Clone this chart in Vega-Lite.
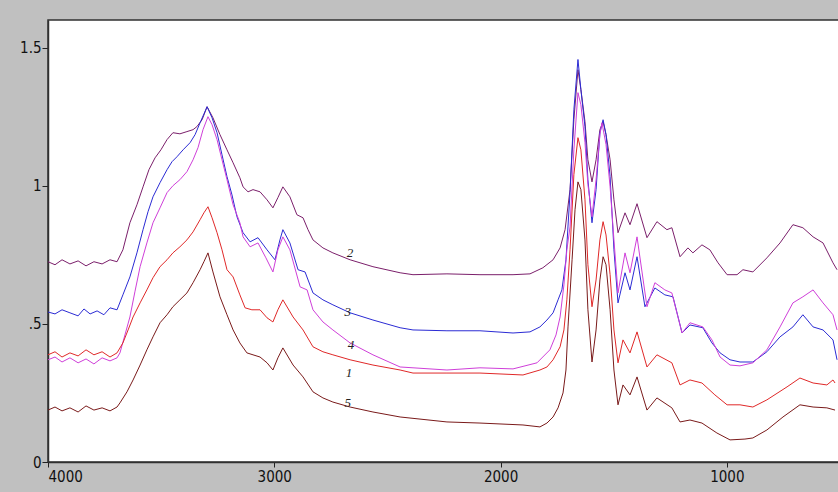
{
"$schema": "https://vega.github.io/schema/vega-lite/v6.json",
"width": 792, "height": 442,
"autosize": {"type": "none"},
"padding": {"left": 48, "top": 20, "right": 0, "bottom": 30},
"background": "#c0c0c0",
"config": {
  "view": {"fill": "white", "stroke": "#303030", "strokeWidth": 1.5},
  "axis": {"labelFont": "'DejaVu Sans Condensed', 'Liberation Sans Narrow', sans-serif", "labelFontSize": 15, "labelColor": "#111111", "tickColor": "#222222", "domainColor": "#303030", "domainWidth": 1.5, "grid": false, "title": null, "tickSize": 6, "labelPadding": 1}
},
"datasets": {
"spec": [
{"s":"2","w":4000,"a":0.725},{"s":"2","w":3969,"a":0.714},{"s":"2","w":3938,"a":0.732},{"s":"2","w":3903,"a":0.717},{"s":"2","w":3867,"a":0.728},{"s":"2","w":3832,"a":0.710},{"s":"2","w":3797,"a":0.725},{"s":"2","w":3761,"a":0.717},{"s":"2","w":3726,"a":0.732},{"s":"2","w":3695,"a":0.725},{"s":"2","w":3669,"a":0.768},{"s":"2","w":3638,"a":0.866},{"s":"2","w":3607,"a":0.931},{"s":"2","w":3580,"a":0.996},{"s":"2","w":3554,"a":1.058},{"s":"2","w":3527,"a":1.101},{"s":"2","w":3501,"a":1.130},{"s":"2","w":3474,"a":1.167},{"s":"2","w":3448,"a":1.192},{"s":"2","w":3417,"a":1.188},{"s":"2","w":3386,"a":1.196},{"s":"2","w":3359,"a":1.203},{"s":"2","w":3342,"a":1.214},{"s":"2","w":3319,"a":1.239},{"s":"2","w":3297,"a":1.286},{"s":"2","w":3271,"a":1.246},{"s":"2","w":3240,"a":1.185},{"s":"2","w":3209,"a":1.130},{"s":"2","w":3182,"a":1.083},{"s":"2","w":3152,"a":1.029},{"s":"2","w":3138,"a":0.996},{"s":"2","w":3116,"a":0.978},{"s":"2","w":3094,"a":0.986},{"s":"2","w":3063,"a":0.978},{"s":"2","w":3032,"a":0.949},{"s":"2","w":3006,"a":0.920},{"s":"2","w":2984,"a":0.957},{"s":"2","w":2962,"a":0.996},{"s":"2","w":2931,"a":0.960},{"s":"2","w":2900,"a":0.895},{"s":"2","w":2873,"a":0.884},{"s":"2","w":2851,"a":0.841},{"s":"2","w":2829,"a":0.804},{"s":"2","w":2785,"a":0.775},{"s":"2","w":2741,"a":0.757},{"s":"2","w":2665,"a":0.732},{"s":"2","w":2564,"a":0.707},{"s":"2","w":2444,"a":0.685},{"s":"2","w":2387,"a":0.678},{"s":"2","w":2237,"a":0.681},{"s":"2","w":2091,"a":0.678},{"s":"2","w":1945,"a":0.678},{"s":"2","w":1870,"a":0.681},{"s":"2","w":1813,"a":0.703},{"s":"2","w":1768,"a":0.732},{"s":"2","w":1737,"a":0.775},{"s":"2","w":1715,"a":0.841},{"s":"2","w":1693,"a":0.986},{"s":"2","w":1676,"a":1.239},{"s":"2","w":1658,"a":1.420},{"s":"2","w":1645,"a":1.348},{"s":"2","w":1627,"a":1.232},{"s":"2","w":1614,"a":1.094},{"s":"2","w":1596,"a":1.014},{"s":"2","w":1578,"a":1.094},{"s":"2","w":1561,"a":1.203},{"s":"2","w":1547,"a":1.232},{"s":"2","w":1534,"a":1.185},{"s":"2","w":1516,"a":1.094},{"s":"2","w":1499,"a":0.949},{"s":"2","w":1481,"a":0.830},{"s":"2","w":1450,"a":0.902},{"s":"2","w":1428,"a":0.859},{"s":"2","w":1397,"a":0.935},{"s":"2","w":1353,"a":0.812},{"s":"2","w":1309,"a":0.870},{"s":"2","w":1265,"a":0.841},{"s":"2","w":1243,"a":0.848},{"s":"2","w":1207,"a":0.743},{"s":"2","w":1172,"a":0.775},{"s":"2","w":1150,"a":0.757},{"s":"2","w":1110,"a":0.786},{"s":"2","w":1075,"a":0.768},{"s":"2","w":1039,"a":0.721},{"s":"2","w":999,"a":0.678},{"s":"2","w":955,"a":0.678},{"s":"2","w":929,"a":0.696},{"s":"2","w":885,"a":0.688},{"s":"2","w":823,"a":0.739},{"s":"2","w":765,"a":0.793},{"s":"2","w":708,"a":0.859},{"s":"2","w":664,"a":0.848},{"s":"2","w":619,"a":0.815},{"s":"2","w":575,"a":0.793},{"s":"2","w":531,"a":0.721},{"s":"2","w":513,"a":0.696},

{"s":"3","w":4000,"a":0.543},{"s":"3","w":3969,"a":0.536},{"s":"3","w":3938,"a":0.551},{"s":"3","w":3903,"a":0.540},{"s":"3","w":3867,"a":0.529},{"s":"3","w":3841,"a":0.554},{"s":"3","w":3814,"a":0.536},{"s":"3","w":3783,"a":0.547},{"s":"3","w":3753,"a":0.533},{"s":"3","w":3726,"a":0.558},{"s":"3","w":3695,"a":0.551},{"s":"3","w":3669,"a":0.605},{"s":"3","w":3638,"a":0.670},{"s":"3","w":3607,"a":0.757},{"s":"3","w":3580,"a":0.841},{"s":"3","w":3558,"a":0.906},{"s":"3","w":3536,"a":0.960},{"s":"3","w":3505,"a":1.011},{"s":"3","w":3474,"a":1.058},{"s":"3","w":3452,"a":1.087},{"s":"3","w":3430,"a":1.105},{"s":"3","w":3403,"a":1.130},{"s":"3","w":3372,"a":1.156},{"s":"3","w":3350,"a":1.185},{"s":"3","w":3328,"a":1.228},{"s":"3","w":3297,"a":1.286},{"s":"3","w":3275,"a":1.246},{"s":"3","w":3253,"a":1.192},{"s":"3","w":3231,"a":1.112},{"s":"3","w":3209,"a":1.033},{"s":"3","w":3187,"a":0.967},{"s":"3","w":3165,"a":0.888},{"s":"3","w":3138,"a":0.830},{"s":"3","w":3107,"a":0.797},{"s":"3","w":3072,"a":0.812},{"s":"3","w":3032,"a":0.768},{"s":"3","w":2997,"a":0.732},{"s":"3","w":2975,"a":0.804},{"s":"3","w":2962,"a":0.841},{"s":"3","w":2931,"a":0.793},{"s":"3","w":2895,"a":0.696},{"s":"3","w":2864,"a":0.688},{"s":"3","w":2829,"a":0.612},{"s":"3","w":2785,"a":0.587},{"s":"3","w":2741,"a":0.569},{"s":"3","w":2665,"a":0.540},{"s":"3","w":2564,"a":0.514},{"s":"3","w":2444,"a":0.486},{"s":"3","w":2387,"a":0.478},{"s":"3","w":2237,"a":0.475},{"s":"3","w":2091,"a":0.475},{"s":"3","w":1945,"a":0.467},{"s":"3","w":1870,"a":0.471},{"s":"3","w":1826,"a":0.489},{"s":"3","w":1795,"a":0.514},{"s":"3","w":1768,"a":0.540},{"s":"3","w":1746,"a":0.587},{"s":"3","w":1729,"a":0.623},{"s":"3","w":1711,"a":0.732},{"s":"3","w":1693,"a":0.975},{"s":"3","w":1676,"a":1.275},{"s":"3","w":1658,"a":1.457},{"s":"3","w":1645,"a":1.348},{"s":"3","w":1627,"a":1.214},{"s":"3","w":1614,"a":1.022},{"s":"3","w":1596,"a":0.866},{"s":"3","w":1578,"a":0.986},{"s":"3","w":1561,"a":1.192},{"s":"3","w":1547,"a":1.239},{"s":"3","w":1534,"a":1.185},{"s":"3","w":1516,"a":1.033},{"s":"3","w":1499,"a":0.768},{"s":"3","w":1481,"a":0.576},{"s":"3","w":1450,"a":0.685},{"s":"3","w":1428,"a":0.623},{"s":"3","w":1397,"a":0.743},{"s":"3","w":1362,"a":0.562},{"s":"3","w":1318,"a":0.630},{"s":"3","w":1274,"a":0.605},{"s":"3","w":1238,"a":0.598},{"s":"3","w":1198,"a":0.467},{"s":"3","w":1163,"a":0.496},{"s":"3","w":1106,"a":0.486},{"s":"3","w":1066,"a":0.431},{"s":"3","w":1030,"a":0.395},{"s":"3","w":986,"a":0.370},{"s":"3","w":942,"a":0.362},{"s":"3","w":885,"a":0.362},{"s":"3","w":823,"a":0.399},{"s":"3","w":765,"a":0.453},{"s":"3","w":708,"a":0.489},{"s":"3","w":664,"a":0.533},{"s":"3","w":619,"a":0.489},{"s":"3","w":575,"a":0.478},{"s":"3","w":531,"a":0.442},{"s":"3","w":513,"a":0.370},

{"s":"4","w":4000,"a":0.370},{"s":"4","w":3969,"a":0.380},{"s":"4","w":3938,"a":0.362},{"s":"4","w":3903,"a":0.377},{"s":"4","w":3867,"a":0.359},{"s":"4","w":3832,"a":0.373},{"s":"4","w":3797,"a":0.355},{"s":"4","w":3761,"a":0.377},{"s":"4","w":3726,"a":0.366},{"s":"4","w":3695,"a":0.377},{"s":"4","w":3682,"a":0.395},{"s":"4","w":3660,"a":0.460},{"s":"4","w":3638,"a":0.525},{"s":"4","w":3616,"a":0.616},{"s":"4","w":3593,"a":0.707},{"s":"4","w":3563,"a":0.793},{"s":"4","w":3536,"a":0.866},{"s":"4","w":3505,"a":0.920},{"s":"4","w":3474,"a":0.975},{"s":"4","w":3448,"a":1.000},{"s":"4","w":3417,"a":1.022},{"s":"4","w":3386,"a":1.051},{"s":"4","w":3359,"a":1.094},{"s":"4","w":3337,"a":1.138},{"s":"4","w":3315,"a":1.203},{"s":"4","w":3293,"a":1.250},{"s":"4","w":3275,"a":1.221},{"s":"4","w":3253,"a":1.167},{"s":"4","w":3231,"a":1.094},{"s":"4","w":3209,"a":1.022},{"s":"4","w":3182,"a":0.931},{"s":"4","w":3152,"a":0.866},{"s":"4","w":3138,"a":0.815},{"s":"4","w":3107,"a":0.779},{"s":"4","w":3072,"a":0.793},{"s":"4","w":3037,"a":0.739},{"s":"4","w":3006,"a":0.688},{"s":"4","w":2984,"a":0.768},{"s":"4","w":2962,"a":0.815},{"s":"4","w":2931,"a":0.768},{"s":"4","w":2886,"a":0.634},{"s":"4","w":2855,"a":0.623},{"s":"4","w":2829,"a":0.551},{"s":"4","w":2785,"a":0.507},{"s":"4","w":2741,"a":0.478},{"s":"4","w":2665,"a":0.431},{"s":"4","w":2564,"a":0.388},{"s":"4","w":2444,"a":0.344},{"s":"4","w":2387,"a":0.341},{"s":"4","w":2237,"a":0.333},{"s":"4","w":2091,"a":0.341},{"s":"4","w":1945,"a":0.337},{"s":"4","w":1839,"a":0.359},{"s":"4","w":1782,"a":0.406},{"s":"4","w":1755,"a":0.460},{"s":"4","w":1737,"a":0.525},{"s":"4","w":1720,"a":0.641},{"s":"4","w":1707,"a":0.768},{"s":"4","w":1693,"a":0.851},{"s":"4","w":1676,"a":1.130},{"s":"4","w":1658,"a":1.337},{"s":"4","w":1645,"a":1.293},{"s":"4","w":1627,"a":1.156},{"s":"4","w":1614,"a":1.004},{"s":"4","w":1596,"a":0.888},{"s":"4","w":1578,"a":1.022},{"s":"4","w":1561,"a":1.185},{"s":"4","w":1552,"a":1.228},{"s":"4","w":1534,"a":1.149},{"s":"4","w":1516,"a":0.996},{"s":"4","w":1499,"a":0.804},{"s":"4","w":1481,"a":0.612},{"s":"4","w":1450,"a":0.757},{"s":"4","w":1428,"a":0.685},{"s":"4","w":1397,"a":0.815},{"s":"4","w":1353,"a":0.562},{"s":"4","w":1318,"a":0.649},{"s":"4","w":1274,"a":0.623},{"s":"4","w":1243,"a":0.612},{"s":"4","w":1198,"a":0.467},{"s":"4","w":1163,"a":0.504},{"s":"4","w":1106,"a":0.489},{"s":"4","w":1066,"a":0.442},{"s":"4","w":1030,"a":0.380},{"s":"4","w":986,"a":0.351},{"s":"4","w":942,"a":0.348},{"s":"4","w":885,"a":0.359},{"s":"4","w":823,"a":0.406},{"s":"4","w":765,"a":0.489},{"s":"4","w":708,"a":0.576},{"s":"4","w":664,"a":0.598},{"s":"4","w":619,"a":0.623},{"s":"4","w":575,"a":0.576},{"s":"4","w":531,"a":0.533},{"s":"4","w":513,"a":0.478},

{"s":"1","w":4000,"a":0.388},{"s":"1","w":3969,"a":0.399},{"s":"1","w":3938,"a":0.380},{"s":"1","w":3903,"a":0.395},{"s":"1","w":3867,"a":0.384},{"s":"1","w":3832,"a":0.406},{"s":"1","w":3797,"a":0.388},{"s":"1","w":3761,"a":0.399},{"s":"1","w":3726,"a":0.380},{"s":"1","w":3695,"a":0.395},{"s":"1","w":3669,"a":0.431},{"s":"1","w":3646,"a":0.478},{"s":"1","w":3624,"a":0.525},{"s":"1","w":3593,"a":0.576},{"s":"1","w":3563,"a":0.623},{"s":"1","w":3536,"a":0.667},{"s":"1","w":3505,"a":0.707},{"s":"1","w":3474,"a":0.732},{"s":"1","w":3448,"a":0.757},{"s":"1","w":3417,"a":0.779},{"s":"1","w":3386,"a":0.804},{"s":"1","w":3359,"a":0.833},{"s":"1","w":3328,"a":0.877},{"s":"1","w":3311,"a":0.902},{"s":"1","w":3293,"a":0.924},{"s":"1","w":3275,"a":0.884},{"s":"1","w":3253,"a":0.830},{"s":"1","w":3231,"a":0.768},{"s":"1","w":3209,"a":0.696},{"s":"1","w":3182,"a":0.670},{"s":"1","w":3152,"a":0.605},{"s":"1","w":3129,"a":0.558},{"s":"1","w":3099,"a":0.551},{"s":"1","w":3063,"a":0.551},{"s":"1","w":3032,"a":0.522},{"s":"1","w":3006,"a":0.507},{"s":"1","w":2984,"a":0.551},{"s":"1","w":2962,"a":0.587},{"s":"1","w":2917,"a":0.525},{"s":"1","w":2873,"a":0.478},{"s":"1","w":2829,"a":0.417},{"s":"1","w":2785,"a":0.399},{"s":"1","w":2741,"a":0.388},{"s":"1","w":2665,"a":0.370},{"s":"1","w":2564,"a":0.351},{"s":"1","w":2444,"a":0.333},{"s":"1","w":2387,"a":0.322},{"s":"1","w":2237,"a":0.322},{"s":"1","w":2091,"a":0.322},{"s":"1","w":1901,"a":0.315},{"s":"1","w":1826,"a":0.333},{"s":"1","w":1795,"a":0.344},{"s":"1","w":1768,"a":0.370},{"s":"1","w":1737,"a":0.417},{"s":"1","w":1720,"a":0.478},{"s":"1","w":1707,"a":0.587},{"s":"1","w":1693,"a":0.768},{"s":"1","w":1676,"a":1.040},{"s":"1","w":1658,"a":1.174},{"s":"1","w":1645,"a":1.130},{"s":"1","w":1627,"a":0.949},{"s":"1","w":1614,"a":0.714},{"s":"1","w":1596,"a":0.562},{"s":"1","w":1578,"a":0.659},{"s":"1","w":1561,"a":0.804},{"s":"1","w":1547,"a":0.870},{"s":"1","w":1534,"a":0.822},{"s":"1","w":1516,"a":0.678},{"s":"1","w":1499,"a":0.478},{"s":"1","w":1481,"a":0.359},{"s":"1","w":1459,"a":0.442},{"s":"1","w":1428,"a":0.395},{"s":"1","w":1397,"a":0.471},{"s":"1","w":1353,"a":0.344},{"s":"1","w":1309,"a":0.388},{"s":"1","w":1243,"a":0.359},{"s":"1","w":1207,"a":0.279},{"s":"1","w":1163,"a":0.297},{"s":"1","w":1110,"a":0.286},{"s":"1","w":1053,"a":0.243},{"s":"1","w":999,"a":0.207},{"s":"1","w":942,"a":0.207},{"s":"1","w":885,"a":0.199},{"s":"1","w":823,"a":0.225},{"s":"1","w":734,"a":0.272},{"s":"1","w":677,"a":0.304},{"s":"1","w":619,"a":0.286},{"s":"1","w":558,"a":0.279},{"s":"1","w":531,"a":0.297},{"s":"1","w":522,"a":0.286},

{"s":"5","w":4000,"a":0.188},{"s":"5","w":3969,"a":0.199},{"s":"5","w":3938,"a":0.185},{"s":"5","w":3903,"a":0.196},{"s":"5","w":3867,"a":0.181},{"s":"5","w":3832,"a":0.203},{"s":"5","w":3797,"a":0.188},{"s":"5","w":3761,"a":0.196},{"s":"5","w":3726,"a":0.185},{"s":"5","w":3695,"a":0.199},{"s":"5","w":3682,"a":0.214},{"s":"5","w":3651,"a":0.254},{"s":"5","w":3624,"a":0.297},{"s":"5","w":3593,"a":0.351},{"s":"5","w":3563,"a":0.406},{"s":"5","w":3536,"a":0.453},{"s":"5","w":3505,"a":0.504},{"s":"5","w":3474,"a":0.533},{"s":"5","w":3448,"a":0.562},{"s":"5","w":3417,"a":0.587},{"s":"5","w":3386,"a":0.612},{"s":"5","w":3359,"a":0.649},{"s":"5","w":3328,"a":0.696},{"s":"5","w":3311,"a":0.725},{"s":"5","w":3293,"a":0.757},{"s":"5","w":3271,"a":0.688},{"s":"5","w":3240,"a":0.598},{"s":"5","w":3209,"a":0.533},{"s":"5","w":3182,"a":0.478},{"s":"5","w":3152,"a":0.431},{"s":"5","w":3121,"a":0.395},{"s":"5","w":3094,"a":0.388},{"s":"5","w":3063,"a":0.380},{"s":"5","w":3032,"a":0.359},{"s":"5","w":3006,"a":0.333},{"s":"5","w":2984,"a":0.377},{"s":"5","w":2962,"a":0.413},{"s":"5","w":2917,"a":0.351},{"s":"5","w":2873,"a":0.308},{"s":"5","w":2829,"a":0.254},{"s":"5","w":2785,"a":0.232},{"s":"5","w":2741,"a":0.217},{"s":"5","w":2665,"a":0.199},{"s":"5","w":2564,"a":0.181},{"s":"5","w":2444,"a":0.163},{"s":"5","w":2237,"a":0.145},{"s":"5","w":2091,"a":0.141},{"s":"5","w":1901,"a":0.134},{"s":"5","w":1826,"a":0.127},{"s":"5","w":1795,"a":0.141},{"s":"5","w":1768,"a":0.163},{"s":"5","w":1746,"a":0.196},{"s":"5","w":1724,"a":0.250},{"s":"5","w":1711,"a":0.333},{"s":"5","w":1702,"a":0.489},{"s":"5","w":1684,"a":0.732},{"s":"5","w":1671,"a":0.913},{"s":"5","w":1658,"a":1.014},{"s":"5","w":1645,"a":0.986},{"s":"5","w":1627,"a":0.804},{"s":"5","w":1614,"a":0.551},{"s":"5","w":1596,"a":0.362},{"s":"5","w":1578,"a":0.478},{"s":"5","w":1561,"a":0.659},{"s":"5","w":1547,"a":0.743},{"s":"5","w":1534,"a":0.714},{"s":"5","w":1516,"a":0.551},{"s":"5","w":1499,"a":0.333},{"s":"5","w":1481,"a":0.207},{"s":"5","w":1459,"a":0.279},{"s":"5","w":1428,"a":0.243},{"s":"5","w":1397,"a":0.308},{"s":"5","w":1353,"a":0.188},{"s":"5","w":1309,"a":0.232},{"s":"5","w":1243,"a":0.196},{"s":"5","w":1207,"a":0.145},{"s":"5","w":1163,"a":0.152},{"s":"5","w":1110,"a":0.141},{"s":"5","w":1044,"a":0.105},{"s":"5","w":986,"a":0.080},{"s":"5","w":920,"a":0.083},{"s":"5","w":885,"a":0.087},{"s":"5","w":823,"a":0.116},{"s":"5","w":752,"a":0.163},{"s":"5","w":677,"a":0.207},{"s":"5","w":619,"a":0.199},{"s":"5","w":558,"a":0.196},{"s":"5","w":522,"a":0.188}
],
"lab": [
{"t":"2","w":2665,"a":0.757},{"t":"3","w":2675,"a":0.543},{"t":"4","w":2661,"a":0.424},{"t":"1","w":2670,"a":0.322},{"t":"5","w":2675,"a":0.214}
]
},
"layer": [
{
 "data": {"name": "spec"},
 "mark": {"type": "line", "strokeWidth": 1, "clip": true, "interpolate": "linear"},
 "encoding": {
  "x": {"field": "w", "type": "quantitative", "scale": {"domain": [4000, 500], "nice": false, "zero": false},
        "axis": {"values": [4000, 3000, 2000, 1000], "format": "d", "tickSize": 5, "labelPadding": 2}},
  "y": {"field": "a", "type": "quantitative", "scale": {"domain": [0, 1.6], "nice": false, "zero": false},
        "axis": {"values": [0, 0.5, 1, 1.5], "format": "~g", "labelExpr": "datum.value == 0.5 ? '.5' : datum.label"}},
  "color": {"field": "s", "type": "nominal", "legend": null,
            "scale": {"domain": ["1", "2", "3", "4", "5"], "range": ["#e02828", "#7b1f6b", "#2b2bd4", "#cf3fd9", "#7a1a1a"]}},
  "detail": {"field": "s"}
 }
},
{
 "data": {"name": "lab"},
 "mark": {"type": "text", "font": "Liberation Serif", "fontStyle": "italic", "fontSize": 13, "color": "#222222", "baseline": "middle", "align": "center"},
 "encoding": {
  "x": {"field": "w", "type": "quantitative"},
  "y": {"field": "a", "type": "quantitative"},
  "text": {"field": "t"}
 }
}
]
}
